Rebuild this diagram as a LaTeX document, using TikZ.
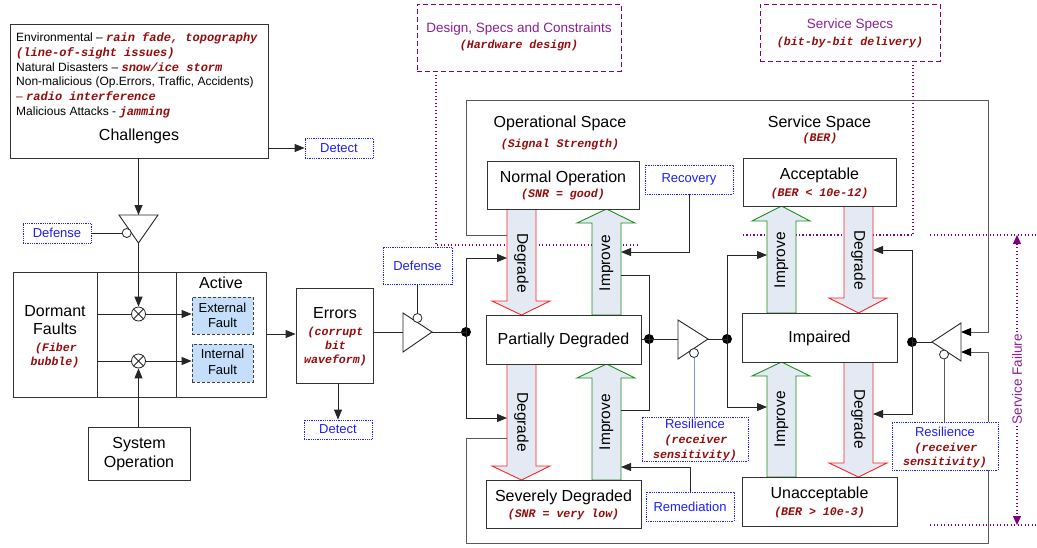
\documentclass[tikz,border=0pt]{standalone}
\usepackage{fontspec}
\setmainfont{Liberation Sans}
\setmonofont{Liberation Mono}
\usetikzlibrary{arrows.meta}

\definecolor{errred}{RGB}{150,12,12}
\definecolor{ctrlblue}{RGB}{30,30,255}
\definecolor{specpurple}{RGB}{128,0,128}
\definecolor{specpurpletxt}{RGB}{140,30,150}
\definecolor{arrowfill}{RGB}{228,234,244}
\definecolor{degred}{RGB}{255,35,35}
\definecolor{impgreen}{RGB}{25,145,25}
\definecolor{faultfill}{RGB}{197,223,250}
\definecolor{resline}{RGB}{120,150,205}

% red monospace annotation inside running text
\newcommand{\rednote}[1]{{\color{errred}\ttfamily\bfseries\itshape #1}}
% rectangle node given by its corners: style, x1, y1, x2, y2, name, text
\newcommand{\rbox}[7]{\node[#1, minimum width={#4-#2}, minimum height={#5-#3}] (#6) at ({(#2+#4)/2},{(#3+#5)/2}) {#7};}
% block arrow: shaft x1, shaft x2, start y, head base y, head left, head right, tip y, outline colour
\newcommand{\fatarrow}[8]{\draw[fatarr, draw=#8] (#1,#3) -- (#1,#4) -- (#5,#4) -- ({(#1+#2)/2},#7) -- (#6,#4) -- (#2,#4) -- (#2,#3) -- cycle;}

\tikzset{
  box/.style={draw=black!80, line width=0.8pt, fill=white, inner sep=0pt},
  ctrlbox/.style={draw=ctrlblue, line width=0.8pt, densely dotted, fill=white, inner sep=0pt, text=ctrlblue, font=\fontsize{13}{15}\selectfont},
  faultbox/.style={draw=black!75, line width=0.8pt, densely dashed, fill=faultfill, inner sep=0pt},
  specbox/.style={draw=specpurple, line width=1pt, dash pattern=on 5pt off 3pt, inner sep=0pt},
  fatarr/.style={fill=arrowfill, line width=0.9pt, line join=miter},
  conn/.style={draw=black!85, line width=0.9pt},
  arr/.style={conn, -{Triangle[length=10pt,width=8pt]}},
  frameline/.style={draw=black!65, line width=0.9pt, -{Triangle[length=10pt,width=8pt,color=black]}},
  ampl/.style={draw=black!85, line width=0.9pt, fill=white, line join=miter},
  bubble/.style={circle, draw=black!85, line width=0.8pt, fill=white, minimum size=9pt, inner sep=0pt},
  junction/.style={circle, fill=black, minimum size=10pt, inner sep=0pt},
  mixer/.style={circle, draw=black!85, line width=0.8pt, fill=white, minimum size=14pt, inner sep=0pt},
  spec/.style={draw=specpurple, line width=1.3pt, dash pattern=on 1.3pt off 2.2pt},
  lbl/.style={inner sep=0pt, anchor=base, font=\fontsize{16}{19}\selectfont},
  lst/.style={inner sep=0pt, anchor=base west, font=\fontsize{12}{14}\selectfont},
  mono/.style={inner sep=0pt, anchor=base, text=errred, font=\fontsize{11.6}{14}\selectfont\ttfamily\bfseries\itshape},
  ctrltxt/.style={inner sep=0pt, anchor=base, text=ctrlblue, font=\fontsize{13}{15}\selectfont},
  spectxt/.style={inner sep=0pt, anchor=base, text=specpurpletxt, font=\fontsize{13.5}{16}\selectfont},
  vlbl/.style={inner sep=0pt, font=\fontsize{15.5}{18}\selectfont},
}

\begin{document}
\begin{tikzpicture}[x=1pt,y=-1pt]
\useasboundingbox (0,0) rectangle (1037,547);

% ---------- specification boxes and their dotted boundaries ----------
\rbox{specbox}{417}{4}{621}{71}{design}{}
\rbox{specbox}{760}{4}{940}{61}{svspec}{}
\node[spectxt] (designt) at (519,32.8) {Design, Specs and Constraints};
\node[mono] (designn) at (519,48.8) {(Hardware design)};
\node[spectxt] (svspect) at (850,28.8) {Service Specs};
\node[mono] (svspecn) at (850,45.8) {(bit-by-bit delivery)};

\coordinate (dsgout) at (436,71);
\coordinate (dsgend) at (637,245);
\coordinate (svsout) at (913,61);
\coordinate (svsend) at (743,235);
\draw[spec] (dsgout) |- (dsgend);
\draw[spec] (svsout) |- (svsend);
\coordinate (sfa) at (930,235); \coordinate (sfae) at (1037,235);
\coordinate (sfb) at (930,525); \coordinate (sfbe) at (1037,525);
\draw[spec] (sfa) -- (sfae);
\draw[spec] (sfb) -- (sfbe);
\coordinate (sftop) at (1017,235); \coordinate (sfbot) at (1017,525);
\draw[spec, {Triangle[length=9pt,width=8pt]}-{Triangle[length=9pt,width=8pt]}] (sftop) -- (sfbot);
\node[spectxt, anchor=center, rotate=90, fill=white, inner sep=1.5pt] (sfail) at (1017,379) {Service Failure};

% ---------- feedback frame lines into the service amplifier ----------
\coordinate (fa0) at (507,235);
\coordinate (fb0) at (507,438);
\coordinate (a4in1) at (961,332);
\coordinate (a4in2) at (961,352);
\draw[frameline] (fa0) -- (466,235) -- (466,100) -- (988,100) -- (988,332) -- (a4in1);
\draw[frameline] (fb0) -- (466,438) -- (466,543) -- (988,543) -- (988,352) -- (a4in2);

% ---------- block arrows between states ----------
\fatarrow{507}{536}{209}{301}{492}{550}{315}{degred}
\fatarrow{592}{621}{315}{223}{577}{635}{209}{impgreen}
\fatarrow{507}{536}{364}{466}{492}{550}{480}{degred}
\fatarrow{592}{621}{480}{378}{577}{635}{364}{impgreen}
\fatarrow{767}{796}{313}{221}{752}{810}{206}{impgreen}
\fatarrow{844}{873}{206}{298}{829}{887}{313}{degred}
\fatarrow{767}{796}{477}{376}{752}{810}{362}{impgreen}
\fatarrow{844}{873}{362}{463}{829}{887}{477}{degred}

\node[vlbl, rotate=-90] (dg1) at (521.5,263) {Degrade};
\node[vlbl, rotate=90] (im1) at (606.5,263) {Improve};
\node[vlbl, rotate=-90] (dg2) at (521.5,422) {Degrade};
\node[vlbl, rotate=90] (im2) at (606.5,422) {Improve};
\node[vlbl, rotate=90] (im3) at (781.5,260) {Improve};
\node[vlbl, rotate=-90] (dg3) at (858.5,260) {Degrade};
\node[vlbl, rotate=90] (im4) at (781.5,419) {Improve};
\node[vlbl, rotate=-90] (dg4) at (858.5,419) {Degrade};

% ---------- boxes ----------
\rbox{box}{10}{24}{268}{158}{chal}{}
\rbox{ctrlbox}{305}{138}{373}{158}{det1}{Detect}
\rbox{ctrlbox}{23}{223}{91}{243}{def1}{Defense}
\rbox{box}{13}{272}{266}{397}{faults}{}
\draw[box] (97,272) -- (97,397);
\draw[box] (176,272) -- (176,397);
\rbox{faultbox}{192}{297}{253}{334}{ext}{}
\rbox{faultbox}{192}{344}{253}{382}{int}{}
\rbox{box}{88}{427}{190}{480}{sysop}{}
\rbox{box}{296}{288}{373}{383}{err}{}
\rbox{ctrlbox}{304}{420}{372}{439}{det2}{Detect}
\rbox{ctrlbox}{383}{247}{452}{284}{def2}{Defense}
\rbox{box}{487}{161}{639}{209}{normal}{}
\rbox{ctrlbox}{645}{165}{733}{194}{rec}{Recovery}
\rbox{box}{486}{315}{641}{364}{pd}{}
\rbox{box}{486}{480}{641}{528}{sd}{}
\rbox{ctrlbox}{646}{492}{734}{521}{rem}{Remediation}
\rbox{ctrlbox}{642}{417}{748}{461}{res1}{}
\rbox{box}{743}{158}{896}{206}{acc}{}
\rbox{box}{742}{313}{897}{362}{imp}{}
\rbox{box}{742}{477}{897}{526}{unacc}{}
\rbox{ctrlbox}{892}{422}{998}{470}{res2}{}

% ---------- texts ----------
\node[lst] (ch1) at (16,41.5) {Environmental -- \rednote{rain fade, topography}};
\node[lst] (ch2) at (16,56.3) {\rednote{(line-of-sight issues)}};
\node[lst] (ch3) at (16,71.1) {Natural Disasters -- \rednote{snow/ice storm}};
\node[lst] (ch4) at (16,85.9) {Non-malicious (Op.Errors, Traffic, Accidents)};
\node[lst] (ch5) at (16,100.7) {{\color{errred}--} \rednote{radio interference}};
\node[lst] (ch6) at (16,115.5) {Malicious Attacks - \rednote{jamming}};
\node[lbl] (chalt) at (139,140.7) {Challenges};

\node[lbl] (activet) at (221,288.7) {Active};
\node[lbl] (dormt1) at (55,316.7) {Dormant};
\node[lbl] (dormt2) at (55,334.7) {Faults};
\node[mono] (dormn1) at (56,351.8) {(Fiber};
\node[mono] (dormn2) at (55,365.8) {bubble)};
\node[ctrltxt, text=black] (extt1) at (222.5,312.7) {External};
\node[ctrltxt, text=black] (extt2) at (222.5,327.7) {Fault};
\node[ctrltxt, text=black] (intt1) at (222.5,358.7) {Internal};
\node[ctrltxt, text=black] (intt2) at (222.5,374.7) {Fault};
\node[lbl] (sysopt1) at (139,448.7) {System};
\node[lbl] (sysopt2) at (139,467.7) {Operation};
\node[lbl] (errt) at (335,318.7) {Errors};
\node[mono] (errn1) at (335.5,335.8) {(corrupt};
\node[mono] (errn2) at (335.5,349.8) {bit};
\node[mono] (errn3) at (335.5,363.8) {waveform)};

\node[lbl] (opspace) at (560,127.7) {Operational Space};
\node[mono] (opspacen) at (560,147.8) {(Signal Strength)};
\node[lbl] (svspace) at (819.5,127.7) {Service Space};
\node[mono] (svspacen) at (820,141.8) {(BER)};
\node[lbl] (normalt) at (563,182.7) {Normal Operation};
\node[mono] (normaln) at (563,197.8) {(SNR = good)};
\node[lbl] (pdt) at (563.5,344.7) {Partially Degraded};
\node[lbl] (sdt) at (563.5,501.7) {Severely Degraded};
\node[mono] (sdn) at (563.5,517.8) {(SNR = very low)};
\node[lbl] (acct) at (819.5,179.7) {Acceptable};
\node[mono] (accn) at (819.5,196.8) {(BER < 10e-12)};
\node[lbl] (impt) at (819.5,342.7) {Impaired};
\node[lbl] (unacct) at (819.5,498.7) {Unacceptable};
\node[mono] (unaccn) at (819.5,515.8) {(BER > 10e-3)};
\node[ctrltxt] (res1t) at (695,428.7) {Resilience};
\node[mono] (res1n1) at (696,443.8) {(receiver};
\node[mono] (res1n2) at (695,458.8) {sensitivity)};
\node[ctrltxt] (res2t) at (945,436.7) {Resilience};
\node[mono] (res2n1) at (946,451.8) {(receiver};
\node[mono] (res2n2) at (945,465.8) {sensitivity)};

% ---------- challenge gate and fault activation ----------
\coordinate (a1l) at (119,215);
\coordinate (a1r) at (158,215);
\coordinate (a1t) at (138.5,243);
\draw[ampl] (a1l) -- (a1r) -- (a1t) -- cycle;
\node[bubble] (b1) at (126.7,233) {};
\draw[arr] (chal.south -| a1t) -- (a1t |- a1l);
\draw[conn] (def1.east) -- (b1.west);
\draw[arr] (det1.west -| chal.east) -- (det1.west);

\node[mixer] (x1) at (138.5,314) {};
\node[mixer] (x2) at (138.5,361) {};
\draw[conn, line width=0.8pt] (x1.north west) -- (x1.south east) (x1.north east) -- (x1.south west);
\draw[conn, line width=0.8pt] (x2.north west) -- (x2.south east) (x2.north east) -- (x2.south west);
\draw[arr] (a1t) -- (x1.north);
\coordinate (dv1) at (97,314);
\coordinate (dv2) at (97,361);
\draw[conn] (dv1) -- (x1.west);
\draw[conn] (dv2) -- (x2.west);
\draw[arr] (x1.east) -- (x1.east -| ext.west);
\draw[arr] (x2.east) -- (x2.east -| int.west);
\draw[arr] (sysop.north -| x2) -- (x2.south);

\coordinate (fo) at (266,334);
\draw[arr] (fo) -- (fo -| err.west);
\draw[arr] (det2.north |- err.south) -- (det2.north);

% ---------- error gate ----------
\coordinate (a2u) at (403,313);
\coordinate (a2d) at (403,352);
\coordinate (a2in) at (403,332);
\coordinate (a2t) at (432,332);
\draw[ampl] (a2u) -- (a2t) -- (a2d) -- cycle;
\node[bubble] (b2) at (417.5,318) {};
\draw[conn] (a2in -| err.east) -- (a2in);
\draw[conn] (def2.south) -- (b2.north);
\node[junction] (dot1) at (466,332) {};
\draw[conn] (a2t) -- (dot1.center);
\coordinate (od1in) at (507,258);
\coordinate (od2in) at (507,418);
\draw[arr] (dot1.center) |- (od1in);
\draw[arr] (dot1.center) |- (od2in);

% ---------- operational space controls ----------
\coordinate (oi1r) at (621,252);
\coordinate (oi1o) at (621,275);
\coordinate (oi2o) at (621,410);
\coordinate (oi2r) at (621,467);
\draw[arr] (rec.south) |- (oi1r);
\draw[arr] (rem.north) |- (oi2r);
\node[junction] (dot2) at (649,339) {};
\draw[conn] (oi1o) -| (dot2.center);
\draw[conn] (dot2.center) |- (oi2o);
\draw[conn] (pd.east |- dot2) -- (dot2.center);

% ---------- resilience gate between spaces ----------
\coordinate (a3u) at (678,320);
\coordinate (a3d) at (678,359);
\coordinate (a3in) at (678,339);
\coordinate (a3t) at (708,339);
\draw[ampl] (a3u) -- (a3t) -- (a3d) -- cycle;
\node[bubble] (b3) at (694,353) {};
\draw[conn] (dot2.center) -- (a3in);
\draw[draw=resline, line width=0.9pt] (b3.south) -- (b3.south |- res1.north);
\node[junction] (dot3) at (727,339) {};
\draw[conn] (a3t) -- (dot3.center);
\coordinate (si1in) at (767,255);
\coordinate (si2in) at (767,407);
\draw[arr] (dot3.center) |- (si1in);
\draw[arr] (dot3.center) |- (si2in);

% ---------- service failure gate ----------
\coordinate (a4u) at (961,323);
\coordinate (a4d) at (961,361);
\coordinate (a4t) at (932,342);
\draw[ampl] (a4u) -- (a4t) -- (a4d) -- cycle;
\node[bubble] (b4) at (944,354.5) {};
\draw[draw=black!65, line width=0.9pt] (b4.south) -- (b4.south |- res2.north);
\node[junction] (dot4) at (912,342) {};
\draw[conn] (a4t) -- (dot4.center);
\coordinate (sd1in) at (873,250);
\coordinate (sd2in) at (873,414);
\draw[arr] (dot4.center) |- (sd1in);
\draw[arr] (dot4.center) |- (sd2in);
\end{tikzpicture}
\end{document}
